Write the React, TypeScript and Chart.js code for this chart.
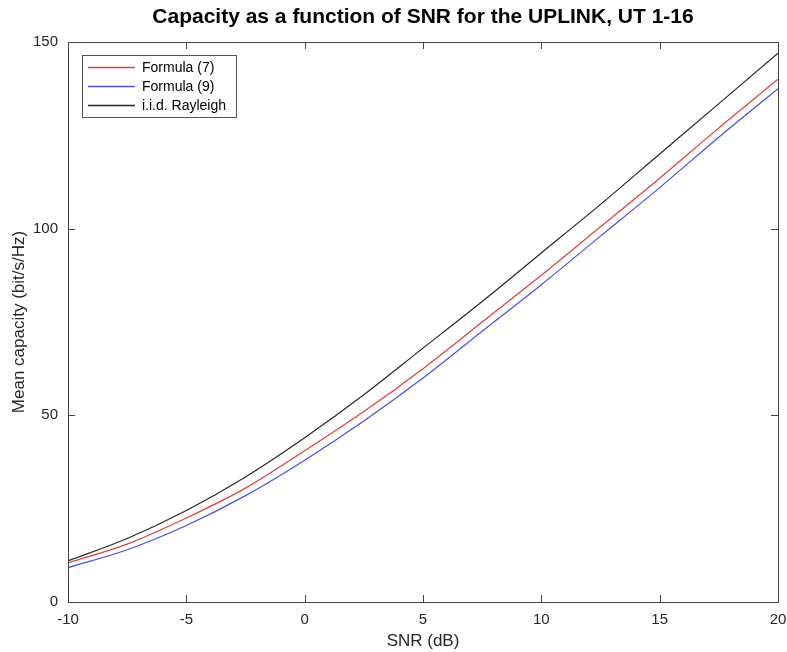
import React, { useEffect, useRef } from "react";
import { Chart, registerables } from "chart.js";

Chart.register(...registerables);

const snr = [-10, -7.5, -5, -2.5, 0, 2.5, 5, 7.5, 10, 12.5, 15, 17.5, 20];
const formula7 = [10.5, 15.5, 22.5, 30.5, 40.5, 51, 62.5, 75, 87.5, 100.5, 113.5, 127, 140];
const formula9 = [9.2, 14, 20.5, 28.5, 38, 48.5, 60, 72.5, 85, 98, 111, 124.5, 137.5];
const rayleigh = [11, 17, 24.5, 33.5, 44, 55.5, 68, 80.5, 93.5, 106.5, 120, 133.5, 147];
const seriesLabels = ["Formula (7)", "Formula (9)", "i.i.d. Rayleigh"];
const xTicks = [-10, -5, 0, 5, 10, 15, 20];
const yTicks = [0, 50, 100, 150];
const titleText = "Capacity as a function of SNR for the UPLINK, UT 1-16";
const xTitle = "SNR (dB)";
const yTitle = "Mean capacity (bit/s/Hz)";

const colors = ["rgb(228,60,60)", "rgb(70,80,225)", "rgb(40,40,40)"];
const FONT = "'Liberation Sans', Arial, Helvetica, sans-serif";

const decorPlugin = {
  id: "decor",
  afterDraw(chart: any) {
    const ctx = chart.ctx;
    const a = chart.chartArea;
    const xs = chart.scales.x;
    const ys = chart.scales.y;
    ctx.save();
    // title
    ctx.fillStyle = "#000";
    ctx.font = `bold 21px ${FONT}`;
    ctx.textAlign = "center";
    ctx.textBaseline = "middle";
    ctx.fillText(titleText, (a.left + a.right) / 2, 17);
    // box
    ctx.strokeStyle = "#444";
    ctx.lineWidth = 1;
    ctx.strokeRect(Math.round(a.left) + 0.5, Math.round(a.top) + 0.5, Math.round(a.right - a.left), Math.round(a.bottom - a.top));
    // inward ticks
    const tl = 7;
    ctx.beginPath();
    xTicks.forEach((v) => {
      const px = Math.round(xs.getPixelForValue(v)) + 0.5;
      ctx.moveTo(px, a.bottom);
      ctx.lineTo(px, a.bottom - tl);
      ctx.moveTo(px, a.top);
      ctx.lineTo(px, a.top + tl);
    });
    yTicks.forEach((v) => {
      const py = Math.round(ys.getPixelForValue(v)) + 0.5;
      ctx.moveTo(a.left, py);
      ctx.lineTo(a.left + tl, py);
      ctx.moveTo(a.right, py);
      ctx.lineTo(a.right - tl, py);
    });
    ctx.stroke();
    // legend
    const lx = Math.round(a.left) + 14;
    const ly = Math.round(a.top) + 13;
    const lw = 154;
    const lh = 62;
    ctx.fillStyle = "#fff";
    ctx.fillRect(lx, ly, lw, lh);
    ctx.strokeStyle = "#555";
    ctx.strokeRect(lx + 0.5, ly + 0.5, lw, lh);
    ctx.font = `14px ${FONT}`;
    ctx.textAlign = "left";
    seriesLabels.forEach((lab, i) => {
      const y = ly + 12 + i * 19;
      ctx.strokeStyle = colors[i];
      ctx.lineWidth = 1.3;
      ctx.beginPath();
      ctx.moveTo(lx + 6, y + 0.5);
      ctx.lineTo(lx + 53, y + 0.5);
      ctx.stroke();
      ctx.fillStyle = "#000";
      ctx.fillText(lab, lx + 60, y + 1);
    });
    ctx.restore();
  },
};

export default function App() {
  const ref = useRef<HTMLCanvasElement>(null);
  useEffect(() => {
    document.body.style.margin = "0";
    const mk = (vals: number[]) => snr.map((x, i) => ({ x, y: vals[i] }));
    const chart = new Chart(ref.current!, {
      type: "line",
      data: {
        datasets: [formula7, formula9, rayleigh].map((vals, i) => ({
          label: seriesLabels[i],
          data: mk(vals),
          borderColor: colors[i],
          backgroundColor: colors[i],
          borderWidth: 1.2,
          pointRadius: 0,
          cubicInterpolationMode: "monotone" as const,
          fill: false,
        })),
      },
      options: {
        animation: false,
        responsive: false,
        layout: { padding: { top: 42, right: 9, left: 0, bottom: 0 } },
        plugins: { legend: { display: false }, title: { display: false }, tooltip: { enabled: false } },
        scales: {
          x: {
            type: "linear",
            min: -10,
            max: 20,
            afterBuildTicks: (s: any) => { s.ticks = xTicks.map((v) => ({ value: v })); },
            afterFit: (s: any) => { s.height = 50; s.paddingLeft = 0; s.paddingRight = 0; },
            grid: { display: false, drawTicks: false },
            border: { display: false },
            ticks: { padding: 9, color: "#262626", font: { family: FONT, size: 15 } },
            title: { display: true, text: xTitle, color: "#262626", font: { family: FONT, size: 17 }, padding: { top: 0, bottom: 0 } },
          },
          y: {
            type: "linear",
            min: 0,
            max: 150,
            afterBuildTicks: (s: any) => { s.ticks = yTicks.map((v) => ({ value: v })); },
            afterFit: (s: any) => { s.width = 68; s.paddingTop = 0; s.paddingBottom = 0; },
            grid: { display: false, drawTicks: false },
            border: { display: false },
            ticks: { padding: 10, color: "#262626", font: { family: FONT, size: 15 } },
            title: { display: true, text: yTitle, color: "#262626", font: { family: FONT, size: 17 }, padding: { top: 9, bottom: 0 } },
          },
        },
      },
      plugins: [decorPlugin],
    });
    return () => chart.destroy();
  }, []);
  return <canvas ref={ref} width={787} height={652} style={{ display: "block" }} />;
}
